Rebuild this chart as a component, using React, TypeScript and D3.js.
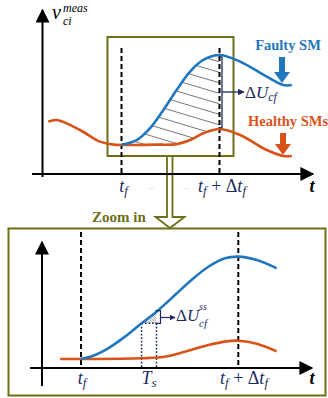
import * as d3 from "d3";

// top panel curves, [t, v]
const faultyTop: [number, number][] = [
  [3.2, 1.67], [3.82, 1.95], [4.36, 2.66], [4.91, 3.78], [5.45, 5.0], [6.0, 6.12],
  [6.54, 6.83], [7.2, 7.13], [8.04, 6.73], [9.13, 5.81], [9.8, 5.3], [10.15, 5.3],
];
const healthyTop: [number, number][] = [
  [0.21, 3.07], [0.56, 3.17], [1.51, 2.56], [2.32, 1.85], [2.87, 1.67],
  [4.5, 1.67], [5.45, 1.7], [6.0, 1.95], [6.54, 2.36], [7.2, 2.62], [8.04, 2.26],
  [9.13, 1.34], [9.8, 0.98], [10.15, 0.98],
];
// zoomed panel curves, [t, v]
const faultyZoom: [number, number][] = [
  [3.2, 0.7], [3.56, 1.02], [3.89, 1.54], [4.32, 2.45], [4.74, 3.49], [5.12, 4.4],
  [5.59, 5.7], [6.01, 6.88], [6.44, 7.91], [6.86, 8.57], [7.2, 8.7], [7.67, 8.44], [8.18, 7.79],
];
const healthyZoom: [number, number][] = [
  [2.67, 0.7], [3.2, 0.7], [4.74, 0.76], [5.33, 0.88], [5.84, 1.27], [6.44, 1.8],
  [6.95, 2.1], [7.2, 2.13], [7.67, 1.9], [8.18, 1.3],
];

const tf = 3.2;
const tfEnd = 7.2;
const tsIdx = [4, 5]; // T_s window on faultyZoom

const BLUE = "#1f77c0";
const ORANGE = "#d95319";
const OLIVE = "#6e6e18";
const NAVY = "#1c2a60";
const SERIF = "'Liberation Serif', 'DejaVu Serif', 'Times New Roman', Times, serif";

const App = () => {
  const xT = d3.scaleLinear().domain([tf, tfEnd]).range([121.5, 219.5]);
  const yT = d3.scaleLinear().domain([0, 10]).range([172, 8]);
  const xZ = d3.scaleLinear().domain([tf, tfEnd]).range([81, 238.3]);
  const yZ = d3.scaleLinear().domain([0, 10]).range([368, 240]);

  const curve = d3.curveCatmullRom.alpha(0.5);
  const lineT = d3.line<[number, number]>().x(d => xT(d[0])).y(d => yT(d[1])).curve(curve);
  const lineZ = d3.line<[number, number]>().x(d => xZ(d[0])).y(d => yZ(d[1])).curve(curve);
  const areaT = d3.area<[number, number]>().x(d => xT(d[0])).y0(yT(-1)).y1(d => yT(d[1])).curve(curve);
  const areaZ = d3.area<[number, number]>().x(d => xZ(d[0])).y0(yZ(-1)).y1(d => yZ(d[1])).curve(curve);

  // hatch lines for the top area between curves
  const hatchTop = d3.range(-20, 200, 10.5).map(y0 => ({ x1: xT(tf), y1: y0, x2: xT(tfEnd), y2: y0 + 0.3 * (xT(tfEnd) - xT(tf)) }));

  const tsL = faultyZoom[tsIdx[0]];
  const tsR = faultyZoom[tsIdx[1]];
  const xsL = xZ(tsL[0]);
  const xsR = xZ(tsR[0]);
  const ysL = yZ(tsL[1]);
  const ysR = yZ(tsR[1]);
  const hatchSmall = d3.range(xsL - 20, xsR + 4, 2.6).map(x0 => ({ x1: x0, y1: ysR - 2, x2: x0 + 16, y2: ysR + 14 }));

  const dash = "5 3";
  const dot = "1.6 1.9";

  return (
    <svg width={328} height={398} style={{ position: "absolute", left: 0, top: 0, fontFamily: SERIF }}>
      <defs>
        <marker id="ah" viewBox="0 0 10 10" refX="9" refY="5" markerWidth="7" markerHeight="7" orient="auto">
          <path d="M0,0 L10,5 L0,10 Z" fill="#000" />
        </marker>
        <marker id="ahn" viewBox="0 0 10 10" refX="9" refY="5" markerWidth="5" markerHeight="5" orient="auto">
          <path d="M0,0 L10,5 L0,10 Z" fill={NAVY} />
        </marker>
        <clipPath id="clipTopX">
          <rect x={xT(tf)} y={0} width={xT(tfEnd) - xT(tf)} height={200} />
        </clipPath>
        <mask id="maskTop">
          <path d={areaT(faultyTop) ?? ""} fill="white" />
          <path d={areaT(healthyTop) ?? ""} fill="black" />
        </mask>
        <clipPath id="clipSmall">
          <rect x={xsL} y={ysR - 4} width={xsR - xsL} height={ysL - ysR + 4} />
        </clipPath>
        <mask id="maskSmall">
          <path d={areaZ(faultyZoom) ?? ""} fill="white" />
        </mask>
        <clipPath id="clipZoom">
          <rect x={55} y={230} width={xZ(8.18) - 55} height={160} />
        </clipPath>
      </defs>

      {/* connector from top box to zoom panel */}
      <path d="M167,156 V217 H155.5 L170,228 L184.5,217 H172.5 V156" fill="white" stroke={OLIVE} strokeWidth={1.8} />

      {/* top box */}
      <rect x={107.5} y={37} width={126} height={119} fill="white" stroke={OLIVE} strokeWidth={2} />

      {/* top hatch */}
      <g clipPath="url(#clipTopX)">
        <g mask="url(#maskTop)">
          {hatchTop.map((h, i) => (
            <line key={i} x1={h.x1} y1={h.y1} x2={h.x2} y2={h.y2} stroke="#555" strokeWidth={0.8} />
          ))}
        </g>
      </g>

      {/* top axes */}
      <line x1={42.5} y1={177} x2={42.5} y2={10} stroke="#000" strokeWidth={2} markerEnd="url(#ah)" />
      <line x1={32} y1={174} x2={313} y2={174} stroke="#000" strokeWidth={2} markerEnd="url(#ah)" />

      {/* top dashed */}
      <line x1={xT(tf)} y1={48} x2={xT(tf)} y2={174} stroke="#000" strokeWidth={2} strokeDasharray={dash} />
      <line x1={xT(tfEnd)} y1={48} x2={xT(tfEnd)} y2={174} stroke="#000" strokeWidth={2} strokeDasharray={dash} />

      {/* top curves */}
      <path d={lineT(healthyTop) ?? ""} fill="none" stroke={ORANGE} strokeWidth={2.6} />
      <path d={lineT(faultyTop) ?? ""} fill="none" stroke={BLUE} strokeWidth={2.6} />

      {/* delta U bracket */}
      <path d={`M${xT(tfEnd) - 1},${yT(7.13) + 2} H${xT(tfEnd) + 2.5} V${yT(2.62) - 1.5} H${xT(tfEnd) - 1}`} fill="none" stroke={NAVY} strokeWidth={1.3} />
      <line x1={xT(tfEnd) + 2.5} y1={92} x2={244} y2={92} stroke={NAVY} strokeWidth={1.3} markerEnd="url(#ahn)" />
      <text x={245} y={98} fontSize={17} fill={NAVY}>
        Δ<tspan fontStyle="italic">U</tspan><tspan fontStyle="italic" fontSize={12} dy={3}>cf</tspan>
      </text>

      {/* legend arrows */}
      <text x={288} y={50} textAnchor="middle" fontWeight="bold" fontSize={14.5} fill={BLUE}>Faulty SM</text>
      <path d="M279,57 H285 V72 H290 L282,83 L274,72 H279 Z" fill={BLUE} />
      <text x={288} y={126} textAnchor="middle" fontWeight="bold" fontSize={14.5} fill={ORANGE}>Healthy SMs</text>
      <path d="M280,133 H286 V144 H291 L283,155 L275,144 H280 Z" fill={ORANGE} />

      {/* y label */}
      <text x={52} y={19} fontStyle="italic" fontSize={20} fill="#000">v</text>
      <text x={63} y={12} fontStyle="italic" fontSize={12} fill="#000">meas</text>
      <text x={63} y={25} fontStyle="italic" fontSize={12} fill="#000">ci</text>

      {/* top tick labels */}
      <text x={xT(tf) + 2} y={192} textAnchor="middle" fontSize={18} fill={NAVY}>
        <tspan fontStyle="italic">t</tspan><tspan fontStyle="italic" fontSize={13} dy={3}>f</tspan>
      </text>
      <text x={222} y={192} textAnchor="middle" fontSize={18} fill={NAVY}>
        <tspan fontStyle="italic">t</tspan><tspan fontStyle="italic" fontSize={13} dy={3}>f</tspan><tspan dy={-3}> + Δ</tspan><tspan fontStyle="italic">t</tspan><tspan fontStyle="italic" fontSize={13} dy={3}>f</tspan>
      </text>
      <text x={312} y={192} textAnchor="middle" fontStyle="italic" fontWeight="bold" fontSize={18} fill="#000">t</text>

      {/* zoom label */}
      <text x={92} y={222} fontWeight="bold" fontSize={15} fill={OLIVE}>Zoom in</text>

      {/* zoom panel box */}
      <rect x={8.5} y={228.5} width={317} height={167} fill="none" stroke={OLIVE} strokeWidth={2} />

      {/* zoom axes */}
      <line x1={42} y1={386} x2={42} y2={242} stroke="#000" strokeWidth={2} markerEnd="url(#ah)" />
      <line x1={30} y1={368} x2={312} y2={368} stroke="#000" strokeWidth={2} markerEnd="url(#ah)" />

      {/* zoom dashed */}
      <line x1={xZ(tf)} y1={232} x2={xZ(tf)} y2={368} stroke="#000" strokeWidth={2} strokeDasharray={dash} />
      <line x1={xZ(tfEnd)} y1={232} x2={xZ(tfEnd)} y2={368} stroke="#000" strokeWidth={2} strokeDasharray={dash} />

      {/* small hatch */}
      <g clipPath="url(#clipSmall)">
        <g mask="url(#maskSmall)">
          {hatchSmall.map((h, i) => (
            <line key={i} x1={h.x1} y1={h.y1} x2={h.x2} y2={h.y2} stroke="#666" strokeWidth={0.7} />
          ))}
        </g>
      </g>

      {/* T_s dotted */}
      <line x1={xsL} y1={ysL} x2={xsL} y2={368} stroke={NAVY} strokeWidth={1.5} strokeDasharray={dot} />
      <line x1={xsR} y1={ysL} x2={xsR} y2={368} stroke={NAVY} strokeWidth={1.5} strokeDasharray={dot} />
      <line x1={xsL} y1={ysL} x2={xsR} y2={ysL} stroke={NAVY} strokeWidth={1.5} strokeDasharray={dot} />

      {/* zoom curves */}
      <g clipPath="url(#clipZoom)">
        <path d={lineZ(healthyZoom) ?? ""} fill="none" stroke={ORANGE} strokeWidth={2.6} />
        <path d={lineZ(faultyZoom) ?? ""} fill="none" stroke={BLUE} strokeWidth={2.6} />
      </g>

      {/* small bracket */}
      <path d={`M${xsR - 1},${ysR - 1} H${xsR + 4} V${ysL} H${xsR - 1}`} fill="none" stroke={NAVY} strokeWidth={1.2} />
      <line x1={xsR + 4} y1={(ysR + ysL) / 2} x2={175} y2={(ysR + ysL) / 2} stroke={NAVY} strokeWidth={1.2} markerEnd="url(#ahn)" />
      <text x={176} y={321} fontSize={17} fill={NAVY}>
        Δ<tspan fontStyle="italic">U</tspan>
      </text>
      <text x={199} y={310} fontStyle="italic" fontSize={10} fill={NAVY}>ss</text>
      <text x={199} y={327} fontStyle="italic" fontSize={11} fill={NAVY}>cf</text>

      {/* zoom tick labels */}
      <text x={xZ(tf) + 1} y={384} textAnchor="middle" fontSize={18} fill={NAVY}>
        <tspan fontStyle="italic">t</tspan><tspan fontStyle="italic" fontSize={13} dy={3}>f</tspan>
      </text>
      <text x={(xsL + xsR) / 2} y={384} textAnchor="middle" fontSize={18} fill={NAVY}>
        <tspan fontStyle="italic">T</tspan><tspan fontStyle="italic" fontSize={13} dy={3}>s</tspan>
      </text>
      <text x={244} y={384} textAnchor="middle" fontSize={18} fill={NAVY}>
        <tspan fontStyle="italic">t</tspan><tspan fontStyle="italic" fontSize={13} dy={3}>f</tspan><tspan dy={-3}> + Δ</tspan><tspan fontStyle="italic">t</tspan><tspan fontStyle="italic" fontSize={13} dy={3}>f</tspan>
      </text>
      <text x={312} y={384} textAnchor="middle" fontStyle="italic" fontWeight="bold" fontSize={18} fill="#000">t</text>
    </svg>
  );
};

export default App;
